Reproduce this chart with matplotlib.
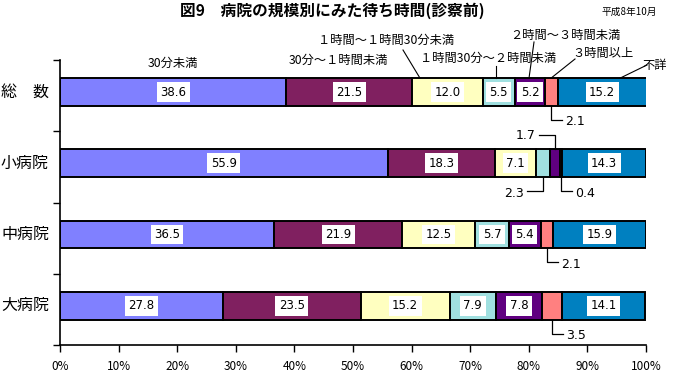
import matplotlib.pyplot as plt
import numpy as np

plt.rcParams['font.family'] = ['Noto Sans CJK JP', 'DejaVu Sans']

categories = ['総　数', '小病院', '中病院', '大病院']
series_names = ['30分未満', '30分～１時間未満', '１時間～１時間30分未満',
                '１時間30分～２時間未満', '２時間～３時間未満', '３時間以上', '不詳']
values = np.array([
    [38.6, 21.5, 12.0, 5.5, 5.2, 2.1, 15.2],
    [55.9, 18.3, 7.1, 2.3, 1.7, 0.4, 14.3],
    [36.5, 21.9, 12.5, 5.7, 5.4, 2.1, 15.9],
    [27.8, 23.5, 15.2, 7.9, 7.8, 3.5, 14.1],
])
colors = ['#8080FF', '#802060', '#FFFFC0', '#A0E0E0', '#600080', '#FF8080', '#0080C0']
xticks = np.arange(0, 101, 10)

W, H = 677, 378
fig = plt.figure(figsize=(W / 100, H / 100), dpi=100)
ax = fig.add_axes([60 / W, 1 - 345 / H, 586 / W, 285 / H])
ax.set_xlim(0, 100)
ax.set_ylim(3.55, -0.45)

PX_X = 5.86   # px per percent
PX_Y = 71.25  # px per category


def to_data(px, py):
    return (px - 60) / PX_X, -0.45 + (py - 60) / PX_Y


bar_h = 0.39
y = np.arange(len(categories))
left = np.zeros(len(categories))
for j in range(values.shape[1]):
    ax.barh(y, values[:, j], left=left, height=bar_h, color=colors[j],
            edgecolor='black', linewidth=1.4)
    for i in range(len(categories)):
        v = values[i, j]
        if v >= 5:
            ax.text(left[i] + v / 2, y[i], f'{v:.1f}', ha='center', va='center',
                    fontsize=8.5, family='DejaVu Sans',
                    bbox=dict(facecolor='white', edgecolor='none', pad=2.5))
    left += values[:, j]

# small segments: (row, col, side, horizontal direction)
small = [(0, 5, 'below', 1), (1, 3, 'below', -1), (1, 4, 'above', -1),
         (1, 5, 'below', 1), (2, 5, 'below', 1), (3, 5, 'below', 1)]
for i, j, side, d in small:
    v = values[i, j]
    xc = values[i, :j].sum() + v / 2
    s = 1 if side == 'below' else -1
    y0 = y[i] + s * bar_h / 2
    y1 = y0 + s * 14 / PX_Y
    hl = (11 if d > 0 else 16) / PX_X
    x1 = xc + d * hl
    ax.plot([xc, xc, x1], [y0, y1, y1], color='black', lw=0.9, clip_on=False)
    ax.text(x1 + d * 3 / PX_X, y1 + (2 if side == 'below' else 0) / PX_Y,
            f'{v:.1f}', ha='left' if d > 0 else 'right', va='center',
            fontsize=9, family='DejaVu Sans')

# series labels above top bar
top_pos = [(173, 63), (338, 60), (386, 40), (488, 58), (565, 35), (603, 53), (655, 65)]
lines = {2: ((403, 50), 420), 3: ((496, 66), 496), 4: ((534, 42), 529),
         5: ((575, 59), 551), 6: ((647, 65), 620)}
for k, name in enumerate(series_names):
    tx, ty = to_data(*top_pos[k])
    ax.text(tx, ty, name, ha='center', va='center', fontsize=8.8, clip_on=False)
    if k in lines:
        (sx, sy), ex = lines[k]
        a = to_data(sx, sy)
        b = to_data(ex, 77)
        ax.plot([a[0], b[0]], [a[1], y[0] - bar_h / 2], color='black', lw=0.8,
                clip_on=False)

for i, c in enumerate(categories):
    ax.text(-11 / PX_X, y[i], c, ha='right', va='center', fontsize=11.5)

ax.set_xticks(xticks)
ax.set_xticklabels([f'{t}%' for t in xticks], fontsize=8.5)
ax.set_yticks(np.arange(-0.45, len(categories), 1.0))
ax.set_yticklabels([])
ax.tick_params(direction='out', length=5, width=1, colors='black')
ax.tick_params(axis='x', pad=6)
for sp in ['top', 'right']:
    ax.spines[sp].set_visible(False)
for sp in ['left', 'bottom']:
    ax.spines[sp].set_linewidth(1.2)

fig.text(332 / W, 1 - 11 / H, '図9　病院の規模別にみた待ち時間(診察前)', ha='center',
         va='center', fontsize=11.3, fontweight='bold')
fig.text(629 / W, 1 - 12 / H, '平成8年10月', ha='center', va='center', fontsize=7)

fig.savefig('out.png', dpi=100)
